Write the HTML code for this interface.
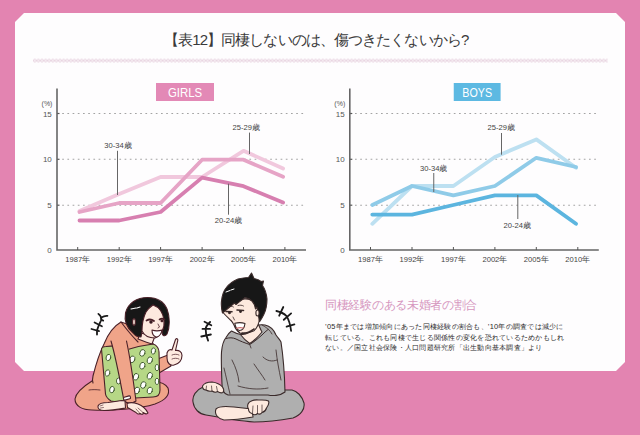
<!DOCTYPE html>
<html><head><meta charset="utf-8">
<style>
html,body{margin:0;padding:0;}
body{width:640px;height:435px;overflow:hidden;background:#e384b1;position:relative;font-family:"Liberation Sans",sans-serif;}
svg{position:absolute;left:0;top:0;}
.lb{font-size:7.6px;fill:#444;font-family:"Liberation Sans",sans-serif;}
.ax{font-size:8px;fill:#555;font-family:"Liberation Sans",sans-serif;}
.yr{font-size:7.6px;fill:#444;font-family:"Liberation Sans",sans-serif;}
.bt{font-size:12.8px;fill:#fff;font-family:"Liberation Sans",sans-serif;}
.title{position:absolute;left:164px;top:30.5px;font-size:15px;color:#3a3a3a;white-space:nowrap;letter-spacing:-0.9px;}
.h2{position:absolute;left:325px;top:297px;font-size:12.2px;letter-spacing:-0.3px;color:#d697bf;white-space:nowrap;}
.body{position:absolute;left:325px;top:322.3px;font-size:7.4px;letter-spacing:0.25px;line-height:10.2px;color:#2a2a2a;white-space:nowrap;}
</style></head><body>
<svg width="640" height="435" viewBox="0 0 640 435">
<polygon points="15,22 24,13 616,13 625,22 625,362 616,371 24,371 15,362" fill="#fefdfe"/>
<defs><pattern id="dp" x="33" y="58.6" width="3.6" height="4" patternUnits="userSpaceOnUse"><circle cx="1.8" cy="2" r="1.35" fill="none" stroke="#e3c9d9" stroke-width="0.85"/></pattern></defs><rect x="33" y="58.6" width="574.6" height="4" fill="url(#dp)"/>
<line x1="57" y1="113.5" x2="59.5" y2="113.5" stroke="#555" stroke-width="1.2"/>
<line x1="62.2" y1="113.5" x2="306" y2="113.5" stroke="#a3a3a3" stroke-width="1.1" stroke-dasharray="1.7 3.5"/>
<line x1="57" y1="159.3" x2="59.5" y2="159.3" stroke="#555" stroke-width="1.2"/>
<line x1="62.2" y1="159.3" x2="306" y2="159.3" stroke="#a3a3a3" stroke-width="1.1" stroke-dasharray="1.7 3.5"/>
<line x1="57" y1="205.2" x2="59.5" y2="205.2" stroke="#555" stroke-width="1.2"/>
<line x1="62.2" y1="205.2" x2="306" y2="205.2" stroke="#a3a3a3" stroke-width="1.1" stroke-dasharray="1.7 3.5"/>
<polyline points="57,88.5 57,250 306,250" fill="none" stroke="#666" stroke-width="1.6"/>
<line x1="77.7" y1="247" x2="77.7" y2="250" stroke="#555" stroke-width="1"/>
<line x1="119.2" y1="247" x2="119.2" y2="250" stroke="#555" stroke-width="1"/>
<line x1="160.6" y1="247" x2="160.6" y2="250" stroke="#555" stroke-width="1"/>
<line x1="202.1" y1="247" x2="202.1" y2="250" stroke="#555" stroke-width="1"/>
<line x1="243.5" y1="247" x2="243.5" y2="250" stroke="#555" stroke-width="1"/>
<line x1="284.9" y1="247" x2="284.9" y2="250" stroke="#555" stroke-width="1"/>
<polyline points="79.5,211.0 119.2,194.0 160.6,177.0 202.1,177.0 243.5,150.8 283.1,168.5" fill="none" stroke="#f1c8dd" stroke-width="3.8" stroke-linejoin="round" stroke-linecap="round"/>
<polyline points="79.5,212.0 119.2,203.0 160.6,203.0 202.1,159.7 243.5,159.7 283.1,176.8" fill="none" stroke="#e6a4c6" stroke-width="3.8" stroke-linejoin="round" stroke-linecap="round"/>
<polyline points="79.5,220.5 119.2,220.5 160.6,212.0 202.1,177.6 243.5,186.2 283.1,202.6" fill="none" stroke="#d77fb0" stroke-width="3.8" stroke-linejoin="round" stroke-linecap="round"/>
<line x1="117.5" y1="150.8" x2="117.5" y2="195" stroke="#666" stroke-width="1"/>
<text x="118" y="147.8" text-anchor="middle" class="lb">30-34歳</text>
<line x1="249.5" y1="132.6" x2="249.5" y2="154" stroke="#666" stroke-width="1"/>
<text x="246.2" y="129.8" text-anchor="middle" class="lb">25-29歳</text>
<line x1="228.5" y1="183.7" x2="228.5" y2="214.7" stroke="#666" stroke-width="1"/>
<text x="228.5" y="223" text-anchor="middle" class="lb">20-24歳</text>
<text x="51.8" y="116.5" text-anchor="end" class="ax">15</text>
<text x="51.8" y="162.3" text-anchor="end" class="ax">10</text>
<text x="51.8" y="208.2" text-anchor="end" class="ax">5</text>
<text x="51.8" y="253" text-anchor="end" class="ax">0</text>
<text x="47" y="106" text-anchor="middle" class="ax" style="font-size:7px">(%)</text>
<text x="77.7" y="262.3" text-anchor="middle" class="yr">1987年</text>
<text x="119.2" y="262.3" text-anchor="middle" class="yr">1992年</text>
<text x="160.6" y="262.3" text-anchor="middle" class="yr">1997年</text>
<text x="202.1" y="262.3" text-anchor="middle" class="yr">2002年</text>
<text x="243.5" y="262.3" text-anchor="middle" class="yr">2005年</text>
<text x="284.9" y="262.3" text-anchor="middle" class="yr">2010年</text>
<rect x="156" y="83" width="58" height="18" fill="#e389b6"/>
<text x="185.0" y="96.6" text-anchor="middle" class="bt" textLength="34.2" lengthAdjust="spacingAndGlyphs">GIRLS</text>
<line x1="349.8" y1="113.5" x2="352.3" y2="113.5" stroke="#555" stroke-width="1.2"/>
<line x1="355.0" y1="113.5" x2="598.8" y2="113.5" stroke="#a3a3a3" stroke-width="1.1" stroke-dasharray="1.7 3.5"/>
<line x1="349.8" y1="159.3" x2="352.3" y2="159.3" stroke="#555" stroke-width="1.2"/>
<line x1="355.0" y1="159.3" x2="598.8" y2="159.3" stroke="#a3a3a3" stroke-width="1.1" stroke-dasharray="1.7 3.5"/>
<line x1="349.8" y1="205.2" x2="352.3" y2="205.2" stroke="#555" stroke-width="1.2"/>
<line x1="355.0" y1="205.2" x2="598.8" y2="205.2" stroke="#a3a3a3" stroke-width="1.1" stroke-dasharray="1.7 3.5"/>
<polyline points="349.8,88.5 349.8,250 598.8,250" fill="none" stroke="#666" stroke-width="1.6"/>
<line x1="370.5" y1="247" x2="370.5" y2="250" stroke="#555" stroke-width="1"/>
<line x1="412.0" y1="247" x2="412.0" y2="250" stroke="#555" stroke-width="1"/>
<line x1="453.4" y1="247" x2="453.4" y2="250" stroke="#555" stroke-width="1"/>
<line x1="494.9" y1="247" x2="494.9" y2="250" stroke="#555" stroke-width="1"/>
<line x1="536.3" y1="247" x2="536.3" y2="250" stroke="#555" stroke-width="1"/>
<line x1="577.8" y1="247" x2="577.8" y2="250" stroke="#555" stroke-width="1"/>
<polyline points="372.3,223.8 412.0,186.0 453.4,186.0 494.9,157.0 536.3,139.4 576.0,167.8" fill="none" stroke="#bde0f1" stroke-width="3.8" stroke-linejoin="round" stroke-linecap="round"/>
<polyline points="372.3,205.0 412.0,186.0 453.4,195.4 494.9,186.0 536.3,157.8 576.0,167.0" fill="none" stroke="#8fcbe8" stroke-width="3.8" stroke-linejoin="round" stroke-linecap="round"/>
<polyline points="372.3,214.6 412.0,214.6 453.4,205.0 494.9,195.4 536.3,195.4 576.0,223.8" fill="none" stroke="#5cb5df" stroke-width="3.8" stroke-linejoin="round" stroke-linecap="round"/>
<line x1="433.75" y1="173" x2="433.75" y2="192" stroke="#666" stroke-width="1"/>
<text x="433.75" y="171" text-anchor="middle" class="lb">30-34歳</text>
<line x1="501.5" y1="133" x2="501.5" y2="154.7" stroke="#666" stroke-width="1"/>
<text x="501.2" y="129.5" text-anchor="middle" class="lb">25-29歳</text>
<line x1="517.8" y1="195" x2="517.8" y2="219" stroke="#666" stroke-width="1"/>
<text x="517.2" y="227.5" text-anchor="middle" class="lb">20-24歳</text>
<text x="344.6" y="116.5" text-anchor="end" class="ax">15</text>
<text x="344.6" y="162.3" text-anchor="end" class="ax">10</text>
<text x="344.6" y="208.2" text-anchor="end" class="ax">5</text>
<text x="344.6" y="253" text-anchor="end" class="ax">0</text>
<text x="339.8" y="106" text-anchor="middle" class="ax" style="font-size:7px">(%)</text>
<text x="370.5" y="262.3" text-anchor="middle" class="yr">1987年</text>
<text x="412.0" y="262.3" text-anchor="middle" class="yr">1992年</text>
<text x="453.4" y="262.3" text-anchor="middle" class="yr">1997年</text>
<text x="494.9" y="262.3" text-anchor="middle" class="yr">2002年</text>
<text x="536.3" y="262.3" text-anchor="middle" class="yr">2005年</text>
<text x="577.8" y="262.3" text-anchor="middle" class="yr">2010年</text>
<rect x="453.75" y="83" width="46.85000000000002" height="18" fill="#5db9e2"/>
<text x="477.175" y="96.6" text-anchor="middle" class="bt" textLength="29.7" lengthAdjust="spacingAndGlyphs">BOYS</text>
</svg>
<div class="title">【表12】同棲しないのは、傷つきたくないから?</div>
<div class="h2">同棲経験のある未婚者の割合</div>
<div class="body">’05年までは増加傾向にあった同棲経験の割合も、’10年の調査では減少に<br>転じている。これも同棲で生じる関係性の変化を恐れているためかもしれ<br>ない。／国立社会保険・人口問題研究所「出生動向基本調査」より</div>
<svg width="640" height="435" viewBox="0 0 640 435">
<g id="girl" stroke="#4a2028" stroke-width="1.1" stroke-linejoin="round" stroke-linecap="round">
  <!-- legs -->
  <path d="M92,381 C84,386 76,392 75,399 C75,406 82,410 92,410 C110,411 140,409 155,404 C166,400 170,394 168,388 C165,383 158,381 150,382 L110,383 Z" fill="#f0a489"/>
  <!-- torso / hood -->
  <path d="M121,322 C114,326 108,334 104,344 C99,354 96,364 93,376 C91,384 93,390 100,395 L150,395 C158,390 160,382 160,372 L158,352 C154,342 148,338 142,336 C136,330 130,324 121,322 Z" fill="#f0a489" stroke="none"/><path d="M93,383 C92,380 92.5,378 93,376 C96,364 99,354 104,344 C108,334 114,326 121,322 C130,324 136,330 142,336 C148,338 154,342 158,352" fill="none"/><path d="M89,390 C92,389.5 96,389.5 100,390" fill="none" stroke-width="0.8"/>
  <path d="M121,322 C127,330 132,336 138,342" fill="none"/>
  <!-- raised arm sleeve -->
  <path d="M155,360 L168,355 L171,366 L159,373 Z" fill="#f0a489"/>
  <!-- hand pointing -->
  <path d="M167,353 C168,350 170,349 172,350 L175.5,339.5 C176.5,338 178,338.5 177.8,340.5 L175.5,350.5 C178.5,350 182,351.5 182,355.5 C182,360 179,364 174,365 C170,366 167,363 167,358 Z" fill="#fde9de"/><path d="M172,355 C174,354 177,354 179,355 M172,359 C174,358 177,358 179,359" fill="none" stroke-width="0.7"/>
  <!-- cushion left part -->
  <path d="M101.5,349 C102,347 104,346.5 106,346.5 C110,346 114,345.5 118,346 L128,400 C121,402 116,402 111,401 C108,399 106,397 105.5,394 Z" fill="#b6d786"/>
  <!-- cushion right part -->
  <path d="M126,350 C135,347 145,345 153,344 C157,345 159,349 159,352 L160,390 C160,395 157,397 153,397 L135,398 Z" fill="#b6d786"/>
  <!-- dots -->
  <g fill="#fff" stroke="#3f5a2c" stroke-width="0.9">
    <ellipse cx="108.4" cy="357.5" rx="2.30" ry="3.22" transform="rotate(15 108.4 357.5)"/>
    <ellipse cx="107.5" cy="373" rx="2.30" ry="3.22" transform="rotate(15 107.5 373)"/>
    <ellipse cx="112" cy="389.6" rx="2.30" ry="3.22" transform="rotate(15 112 389.6)"/>
    <ellipse cx="118.5" cy="381" rx="2.07" ry="2.99"/>
    <ellipse cx="142.4" cy="352.9" rx="2.53" ry="3.45" transform="rotate(20 142.4 352.9)"/>
    <ellipse cx="153.4" cy="351" rx="2.07" ry="3.22" transform="rotate(10 153.4 351)"/>
    <ellipse cx="132.3" cy="359.3" rx="2.53" ry="3.45" transform="rotate(20 132.3 359.3)"/>
    <ellipse cx="149.8" cy="360.2" rx="2.53" ry="3.45" transform="rotate(20 149.8 360.2)"/>
    <ellipse cx="142.4" cy="365.7" rx="2.53" ry="3.45" transform="rotate(20 142.4 365.7)"/>
    <ellipse cx="157" cy="367.6" rx="1.84" ry="3.22"/>
    <ellipse cx="136" cy="376.8" rx="2.53" ry="3.45" transform="rotate(20 136 376.8)"/>
    <ellipse cx="149.8" cy="375.8" rx="2.53" ry="3.45" transform="rotate(20 149.8 375.8)"/>
    <ellipse cx="143.3" cy="385" rx="2.53" ry="3.45" transform="rotate(20 143.3 385)"/>
    <ellipse cx="157" cy="381.4" rx="1.84" ry="3.22"/>
    <ellipse cx="136.9" cy="390.5" rx="2.53" ry="3.45" transform="rotate(20 136.9 390.5)"/>
    <ellipse cx="149.8" cy="390.5" rx="2.53" ry="3.45" transform="rotate(20 149.8 390.5)"/>
  </g>
  <!-- hugging arm -->
  <path d="M110,339 C116,334 123,335 127,339 C130,355 133,378 136,401 C132,404 128,404 124,401 C121,385 118,360 110,339 Z" fill="#f0a489" stroke="none"/><path d="M111,341 C116,358 120,380 124,401 C128,404 132,404 136,401 C133,378 130,357 126.5,341" fill="none"/>
  <!-- foot -->
  <path d="M98,406 C99,403 103,402.5 108,402.5 C113,402 118,401 122,400.5 L125,401 L125.5,408 C120,409 112,410.5 104,410.5 C100,410.5 97.5,409 98,406 Z" fill="#fde9de"/>
  <path d="M100,406 L103,405 M100.5,408 L103.5,407.5" fill="none" stroke-width="0.6"/>
  <!-- floor hand -->
  <path d="M127,403.5 C130,402 134,402.5 138,404 C142,405.5 146,409 148,413 C147,414.5 145,414 143,412.5 C144,414 142,415 140,413.5 C139,414.5 137,414 136,412.5 C133,411 130,409 127.5,407.5 Z" fill="#fde9de"/>
  <path d="M138,408 L143,412.5 M136,409 L140,413.5" fill="none" stroke-width="0.6"/>
  <rect x="123.5" y="396.5" width="7" height="3" rx="1" fill="#fff" transform="rotate(-15 127 398)"/>
  <!-- neck -->
  <path d="M140,333 L155,336 L152,344 C148,343 143,341 138,339 Z" fill="#fde9de"/>
  <!-- hair -->
  <path d="M133,333 C127,328 124,321 125.5,313 C128,303 137,297.5 147.6,297.5 C157,297.5 164,302 167,309 C170,317 170,327 167,334 C165,337 162,336 162,332 L163,320 C162,312 158,307 153,305 C148,309 145,315 144,322 C143,327 142,332 141,337 C138,337 135,336 133,333 Z" fill="#171717"/>
  <!-- face -->
  <path d="M153,305 C159,307 163,313 164,320 C165,328 161,336 155,338 C149,338 144,335 142,331 C142,323 144,316 146,312 C148,309 150,307 153,305 Z" fill="#fde9de"/>
  <ellipse cx="134" cy="322" rx="1.4" ry="3.4" fill="#fde9de"/>
  <path d="M131,309 L136,308 M137,308 L140,307" fill="none" stroke="#fff" stroke-width="1.2"/>
  <path d="M146.5,320.5 C149,319 152,319.5 154,321" fill="none" stroke-width="1.8"/><circle cx="151" cy="322" r="1.2" fill="#171717"/>
  <path d="M159.5,319.5 C161,318.5 163,318.5 164.5,319.5" fill="none" stroke-width="1.6"/><circle cx="162" cy="320.7" r="1" fill="#171717"/>
  <path d="M158,324 L159.5,327 L158,328" fill="none" stroke-width="0.8"/>
  <path d="M152,330 C155,331 159,331 162,330 C161,335 158,337 156,337 C153,336 152,333 152,330 Z" fill="#fff"/>
</g>
<g id="marks" stroke="#1a1a1a" stroke-width="1.8" stroke-linecap="round" fill="none">
  <path d="M98.4,313.9 C101,316 102,318 101,320.5 C99.5,324 97.5,328 97,331 L97,334.6"/>
  <path d="M100.8,317.7 C103,316.5 105,315.5 107.4,315.9 M101.5,319.8 L103.2,320.6 M94.6,322.5 L101.9,326.3 M91.5,329 L99.1,331.1"/>
  <path d="M210.1,322 C207,325 205.5,327 205.7,329.3 C205.5,333 206.5,337 208.1,340.6"/>
  <path d="M204.5,321.7 L211.3,325.3 M202.5,328.9 L210.1,328.9 M201.3,336.5 L210.9,334.5"/>
  <path d="M276.4,311 C281,312 284,313.5 286.6,316.1 C289,320 290.5,326 291.1,330.9"/>
  <path d="M283.3,307 L279.2,315.7 M291.1,313.4 L283.8,319.8 M294.4,324.4 L286.6,326.7"/>
</g>
<g id="guy" stroke="#3a2a2a" stroke-width="1.1" stroke-linejoin="round" stroke-linecap="round">
  <!-- legs -->
  <path d="M203,387 C196,390 192,396 193,402 C194,409 199,414 206,415 C222,418 240,421 254,422 C268,422 282,420 293,418 C301,415 305,409 304,403 C302,396 297,391 292,390 C280,390 265,390 250,390 L230,390 C220,388 210,387 203,387 Z" fill="#afafaf"/>
  <!-- torso -->
  <path d="M221.5,352 C222,346 224,340 226,337.5 C228,334 230,332 231.5,331 C235,333 238,334 241,334.5 L256,326 C259,324.5 262,324.5 265,325 C270,326 274,330 276,335 C278,338 280,340 281,342 C283,355 284.5,372 285,392 C280,396 272,396 268,395 L228,395 C224,394 222,390 222,384 C221.5,372 221,360 221.5,352 Z" fill="#afafaf"/>
  <path d="M240,334 C244,335.5 250,333 256,326 L258.5,324.6 C260,328 261,330.5 262,332 C258,337 254,341 249.7,343.5 C246,341 243,338 240,334 Z" fill="#fde9de"/>
  <path d="M226,338.5 C229,337.5 233,337.5 236,339 C240,341 245,343 249.7,344.5 C254,342 258,338.5 262,335 C264,333 266,331 268,329.5" fill="none" stroke-width="1"/>
  <path d="M262,325 C266,327 270,330 272,334 M249.7,344.5 L251,348" fill="none" stroke-width="0.8"/>
  <path d="M232,360 C236,368 238,374 239,382 M263,357 C267,361 272,362 277,360 M238,386 C248,389 258,390 268,388 M276,350 C277,360 279,370 281,380 M224,368 C226,376 228,386 230,394 M254,364 C258,370 262,375 265,380" fill="none" stroke-width="0.8"/>
  <!-- foot -->
  <path d="M216,409 C219,406 226,406 234,407 L252,409 L253,417 C242,419 232,420 224,420 C218,419 214,414 216,409 Z" fill="#fde9de"/>
  <!-- right hand -->
  <path d="M248,404 C249,401 254,399.5 258.5,400 C262,400 266,399.5 268.5,401 C269.5,403 268,406 266.5,408 C266,410 264,412 262,412.5 C261,414 259,414.5 257.5,413.5 C256,415 253.5,415 252,413.5 C250,413 248.5,411 248.5,409 C247.5,407.5 247.5,405.5 248,404 Z" fill="#fde9de"/>
  <path d="M253,406 L252.5,413 M257.5,405.5 L257.5,413.5 M262,405 L262,412" fill="none" stroke-width="0.7"/>
  <!-- left hand -->
  <path d="M202.5,386 C204,383.5 208,382 212,382 C216,382.5 220,384 222.5,387 C224,389 224,391 223,392.5 C221,393.5 219,392.5 217.5,391.5 C216,392.5 213.5,392 212,391 C210,391.5 207.5,391 206,390 C204,390 202.5,388.5 202.5,386 Z" fill="#fde9de"/>
  <path d="M206.5,386 L206,390 M211.5,386 L212,391 M216.5,386.5 L217.5,391.5" fill="none" stroke-width="0.7"/>
  <!-- face -->
  <path d="M222.5,312 C226,316 229,318.5 231,320.5 C232.5,322 233.5,324 234,325 C235,328 237,331 240,333 C243,334 248,333.5 254,330.7 C257,328 259,324 259.6,318 C259,312 258,307 256,303 C250,297 240,298 232,303 C228,306 225,309 222.5,312 Z" fill="#fde9de"/>
  <!-- hair -->
  <path d="M222.5,313 C221.5,309 221,305 221.5,301 C222,296 223.5,291 226,288 C229,284 233,281 238,279 C242,278 246,277.5 248.5,277.5 L251.5,273 L254,278.5 C257,279 259.5,280 261,281.5 L263.5,281 L262.5,285.5 C265,289 266.5,294 267,299 C267,305 266,310 264,314 C262.5,317 261,320 259.6,321.5 C258.5,317 258,312 257,307 L255.5,309 C255,306 254,303 252,301 C250,299 247.5,298 245,297.6 C242,300 239,302 236,304.5 L234.5,303 C231,306 227,309 222.5,313 Z" fill="#171717"/>
  <path d="M226,292 L230,290.5 M231,290 L234,289" fill="none" stroke="#fff" stroke-width="1"/>
  <ellipse cx="257.5" cy="313" rx="1.6" ry="3" fill="#fde9de"/>
  <path d="M226,311.5 L232,311.8 M237,310 L243.5,310.5" fill="none" stroke-width="1.6"/>
  <circle cx="229.5" cy="312.8" r="0.9" fill="#171717"/><circle cx="240.5" cy="311.6" r="0.9" fill="#171717"/>
  <path d="M228,307 C230,306 232,306 233.5,307 M238,305.5 C240,305 242,305 243.5,306" fill="none" stroke-width="0.8"/>
  <path d="M233,317 L234.5,320" fill="none" stroke-width="0.8"/>
  <path d="M234.8,323.3 C238,322.5 242,322.5 245,323.5 C244.5,327.5 242.5,330.5 239.5,330.5 C237,330 235.5,327 234.8,323.3 Z" fill="#fff"/>
  <path d="M236.5,328.3 C238.5,327.5 241,327.5 243.5,328" fill="none" stroke="#d07070" stroke-width="1.2"/>
  <path d="M242,333 C246,333.5 250,332 254,329" fill="none" stroke-width="1.6" stroke-dasharray="1 0.8"/>
</g>

</svg>
</body></html>
